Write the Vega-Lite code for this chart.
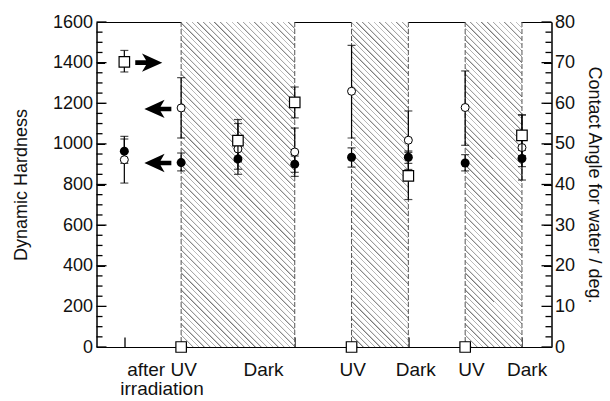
{
  "$schema": "https://vega.github.io/schema/vega-lite/v6.json",
  "width": 455,
  "height": 325,
  "autosize": {"type": "none"},
  "padding": {"left": 96.5, "top": 22, "right": 58.5, "bottom": 54},
  "config": {
    "view": {"stroke": "black", "strokeWidth": 1},
    "font": "Liberation Sans",
    "axis": {"grid": false, "ticks": true, "zindex": 1, "domainColor": "black", "tickColor": "black", "labelColor": "#111", "titleColor": "#111", "labelFont": "Liberation Sans", "titleFont": "Liberation Sans", "titleFontWeight": "normal", "labelFontSize": 18, "titleFontSize": 18}
  },
  "datasets": {
    "bands": [{"from": 1, "to": 2}, {"from": 2, "to": 3}, {"from": 4, "to": 5}, {"from": 6, "to": 7}],
    "edges": [{"x": 1}, {"x": 3}, {"x": 4}, {"x": 5}, {"x": 6}, {"x": 7}],
    "yticks": [
      {"v": 0, "major": true}, {"v": 50, "major": false}, {"v": 100, "major": false}, {"v": 150, "major": false},
      {"v": 200, "major": true}, {"v": 250, "major": false}, {"v": 300, "major": false}, {"v": 350, "major": false},
      {"v": 400, "major": true}, {"v": 450, "major": false}, {"v": 500, "major": false}, {"v": 550, "major": false},
      {"v": 600, "major": true}, {"v": 650, "major": false}, {"v": 700, "major": false}, {"v": 750, "major": false},
      {"v": 800, "major": true}, {"v": 850, "major": false}, {"v": 900, "major": false}, {"v": 950, "major": false},
      {"v": 1000, "major": true}, {"v": 1050, "major": false}, {"v": 1100, "major": false}, {"v": 1150, "major": false},
      {"v": 1200, "major": true}, {"v": 1250, "major": false}, {"v": 1300, "major": false}, {"v": 1350, "major": false},
      {"v": 1400, "major": true}, {"v": 1450, "major": false}, {"v": 1500, "major": false}, {"v": 1550, "major": false},
      {"v": 1600, "major": true}
    ],
    "circles": [
      {"x": 0, "kind": "filled", "value": 964, "lo": 904, "hi": 1024},
      {"x": 0, "kind": "open", "value": 922, "lo": 807, "hi": 1037},
      {"x": 1, "kind": "filled", "value": 908, "lo": 867, "hi": 955},
      {"x": 1, "kind": "open", "value": 1177, "lo": 1029, "hi": 1326},
      {"x": 2, "kind": "filled", "value": 926, "lo": 875, "hi": 977},
      {"x": 2, "kind": "open", "value": 975, "lo": 850, "hi": 1100},
      {"x": 3, "kind": "filled", "value": 900, "lo": 860, "hi": 940},
      {"x": 3, "kind": "open", "value": 960, "lo": 840, "hi": 1078},
      {"x": 4, "kind": "filled", "value": 934, "lo": 886, "hi": 980},
      {"x": 4, "kind": "open", "value": 1259, "lo": 1029, "hi": 1485},
      {"x": 5, "kind": "filled", "value": 934, "lo": 904, "hi": 965},
      {"x": 5, "kind": "open", "value": 1018, "lo": 874, "hi": 1162},
      {"x": 6, "kind": "filled", "value": 906, "lo": 867, "hi": 947},
      {"x": 6, "kind": "open", "value": 1179, "lo": 993, "hi": 1359},
      {"x": 7, "kind": "filled", "value": 928, "lo": 888, "hi": 968},
      {"x": 7, "kind": "open", "value": 982, "lo": 822, "hi": 1143}
    ],
    "angles": [
      {"x": 0, "angle": 70.2, "lo": 67.7, "hi": 73.0},
      {"x": 1, "angle": 0},
      {"x": 2, "angle": 50.8, "lo": 45.6, "hi": 56.0},
      {"x": 3, "angle": 60.2, "lo": 56.4, "hi": 64.0},
      {"x": 4, "angle": 0},
      {"x": 5, "angle": 42.1, "lo": 36.3, "hi": 47.9},
      {"x": 6, "angle": 0},
      {"x": 7, "angle": 52.1, "lo": 47.1, "hi": 57.1}
    ],
    "arrows": [
      {"x": 0.43, "value": 1400, "dir": "right"},
      {"x": 0.59, "value": 1172, "dir": "left"},
      {"x": 0.59, "value": 906, "dir": "left"}
    ],
    "labels": [
      {"x": 0.663, "text": "after UV\nirradiation"},
      {"x": 2.45, "text": "Dark"},
      {"x": 4.02, "text": "UV"},
      {"x": 5.13, "text": "Dark"},
      {"x": 6.11, "text": "UV"},
      {"x": 7.09, "text": "Dark"}
    ]
  },
  "layer": [
    {
      "layer": [
        {
          "data": {"name": "bands"},
          "mark": {"type": "rect", "fill": {"gradient": "linear", "x1": 0, "y1": 1, "x2": 0.237112, "y2": -0.356715, "stops": [
{"offset":0,"color":"#777"},{"offset":0.004,"color":"#fff"},{"offset":0.0125,"color":"#fff"},
{"offset":0.0125,"color":"#777"},{"offset":0.0165,"color":"#fff"},{"offset":0.025,"color":"#fff"},
{"offset":0.025,"color":"#777"},{"offset":0.029,"color":"#fff"},{"offset":0.0375,"color":"#fff"},
{"offset":0.0375,"color":"#777"},{"offset":0.0415,"color":"#fff"},{"offset":0.05,"color":"#fff"},
{"offset":0.05,"color":"#777"},{"offset":0.054,"color":"#fff"},{"offset":0.0625,"color":"#fff"},
{"offset":0.0625,"color":"#777"},{"offset":0.0665,"color":"#fff"},{"offset":0.075,"color":"#fff"},
{"offset":0.075,"color":"#777"},{"offset":0.079,"color":"#fff"},{"offset":0.0875,"color":"#fff"},
{"offset":0.0875,"color":"#777"},{"offset":0.0915,"color":"#fff"},{"offset":0.1,"color":"#fff"},
{"offset":0.1,"color":"#777"},{"offset":0.104,"color":"#fff"},{"offset":0.1125,"color":"#fff"},
{"offset":0.1125,"color":"#777"},{"offset":0.1165,"color":"#fff"},{"offset":0.125,"color":"#fff"},
{"offset":0.125,"color":"#777"},{"offset":0.129,"color":"#fff"},{"offset":0.1375,"color":"#fff"},
{"offset":0.1375,"color":"#777"},{"offset":0.1415,"color":"#fff"},{"offset":0.15,"color":"#fff"},
{"offset":0.15,"color":"#777"},{"offset":0.154,"color":"#fff"},{"offset":0.1625,"color":"#fff"},
{"offset":0.1625,"color":"#777"},{"offset":0.1665,"color":"#fff"},{"offset":0.175,"color":"#fff"},
{"offset":0.175,"color":"#777"},{"offset":0.179,"color":"#fff"},{"offset":0.1875,"color":"#fff"},
{"offset":0.1875,"color":"#777"},{"offset":0.1915,"color":"#fff"},{"offset":0.2,"color":"#fff"},
{"offset":0.2,"color":"#777"},{"offset":0.204,"color":"#fff"},{"offset":0.2125,"color":"#fff"},
{"offset":0.2125,"color":"#777"},{"offset":0.2165,"color":"#fff"},{"offset":0.225,"color":"#fff"},
{"offset":0.225,"color":"#777"},{"offset":0.229,"color":"#fff"},{"offset":0.2375,"color":"#fff"},
{"offset":0.2375,"color":"#777"},{"offset":0.2415,"color":"#fff"},{"offset":0.25,"color":"#fff"},
{"offset":0.25,"color":"#777"},{"offset":0.254,"color":"#fff"},{"offset":0.2625,"color":"#fff"},
{"offset":0.2625,"color":"#777"},{"offset":0.2665,"color":"#fff"},{"offset":0.275,"color":"#fff"},
{"offset":0.275,"color":"#777"},{"offset":0.279,"color":"#fff"},{"offset":0.2875,"color":"#fff"},
{"offset":0.2875,"color":"#777"},{"offset":0.2915,"color":"#fff"},{"offset":0.3,"color":"#fff"},
{"offset":0.3,"color":"#777"},{"offset":0.304,"color":"#fff"},{"offset":0.3125,"color":"#fff"},
{"offset":0.3125,"color":"#777"},{"offset":0.3165,"color":"#fff"},{"offset":0.325,"color":"#fff"},
{"offset":0.325,"color":"#777"},{"offset":0.329,"color":"#fff"},{"offset":0.3375,"color":"#fff"},
{"offset":0.3375,"color":"#777"},{"offset":0.3415,"color":"#fff"},{"offset":0.35,"color":"#fff"},
{"offset":0.35,"color":"#777"},{"offset":0.354,"color":"#fff"},{"offset":0.3625,"color":"#fff"},
{"offset":0.3625,"color":"#777"},{"offset":0.3665,"color":"#fff"},{"offset":0.375,"color":"#fff"},
{"offset":0.375,"color":"#777"},{"offset":0.379,"color":"#fff"},{"offset":0.3875,"color":"#fff"},
{"offset":0.3875,"color":"#777"},{"offset":0.3915,"color":"#fff"},{"offset":0.4,"color":"#fff"},
{"offset":0.4,"color":"#777"},{"offset":0.404,"color":"#fff"},{"offset":0.4125,"color":"#fff"},
{"offset":0.4125,"color":"#777"},{"offset":0.4165,"color":"#fff"},{"offset":0.425,"color":"#fff"},
{"offset":0.425,"color":"#777"},{"offset":0.429,"color":"#fff"},{"offset":0.4375,"color":"#fff"},
{"offset":0.4375,"color":"#777"},{"offset":0.4415,"color":"#fff"},{"offset":0.45,"color":"#fff"},
{"offset":0.45,"color":"#777"},{"offset":0.454,"color":"#fff"},{"offset":0.4625,"color":"#fff"},
{"offset":0.4625,"color":"#777"},{"offset":0.4665,"color":"#fff"},{"offset":0.475,"color":"#fff"},
{"offset":0.475,"color":"#777"},{"offset":0.479,"color":"#fff"},{"offset":0.4875,"color":"#fff"},
{"offset":0.4875,"color":"#777"},{"offset":0.4915,"color":"#fff"},{"offset":0.5,"color":"#fff"},
{"offset":0.5,"color":"#777"},{"offset":0.504,"color":"#fff"},{"offset":0.5125,"color":"#fff"},
{"offset":0.5125,"color":"#777"},{"offset":0.5165,"color":"#fff"},{"offset":0.525,"color":"#fff"},
{"offset":0.525,"color":"#777"},{"offset":0.529,"color":"#fff"},{"offset":0.5375,"color":"#fff"},
{"offset":0.5375,"color":"#777"},{"offset":0.5415,"color":"#fff"},{"offset":0.55,"color":"#fff"},
{"offset":0.55,"color":"#777"},{"offset":0.554,"color":"#fff"},{"offset":0.5625,"color":"#fff"},
{"offset":0.5625,"color":"#777"},{"offset":0.5665,"color":"#fff"},{"offset":0.575,"color":"#fff"},
{"offset":0.575,"color":"#777"},{"offset":0.579,"color":"#fff"},{"offset":0.5875,"color":"#fff"},
{"offset":0.5875,"color":"#777"},{"offset":0.5915,"color":"#fff"},{"offset":0.6,"color":"#fff"},
{"offset":0.6,"color":"#777"},{"offset":0.604,"color":"#fff"},{"offset":0.6125,"color":"#fff"},
{"offset":0.6125,"color":"#777"},{"offset":0.6165,"color":"#fff"},{"offset":0.625,"color":"#fff"},
{"offset":0.625,"color":"#777"},{"offset":0.629,"color":"#fff"},{"offset":0.6375,"color":"#fff"},
{"offset":0.6375,"color":"#777"},{"offset":0.6415,"color":"#fff"},{"offset":0.65,"color":"#fff"},
{"offset":0.65,"color":"#777"},{"offset":0.654,"color":"#fff"},{"offset":0.6625,"color":"#fff"},
{"offset":0.6625,"color":"#777"},{"offset":0.6665,"color":"#fff"},{"offset":0.675,"color":"#fff"},
{"offset":0.675,"color":"#777"},{"offset":0.679,"color":"#fff"},{"offset":0.6875,"color":"#fff"},
{"offset":0.6875,"color":"#777"},{"offset":0.6915,"color":"#fff"},{"offset":0.7,"color":"#fff"},
{"offset":0.7,"color":"#777"},{"offset":0.704,"color":"#fff"},{"offset":0.7125,"color":"#fff"},
{"offset":0.7125,"color":"#777"},{"offset":0.7165,"color":"#fff"},{"offset":0.725,"color":"#fff"},
{"offset":0.725,"color":"#777"},{"offset":0.729,"color":"#fff"},{"offset":0.7375,"color":"#fff"},
{"offset":0.7375,"color":"#777"},{"offset":0.7415,"color":"#fff"},{"offset":0.75,"color":"#fff"},
{"offset":0.75,"color":"#777"},{"offset":0.754,"color":"#fff"},{"offset":0.7625,"color":"#fff"},
{"offset":0.7625,"color":"#777"},{"offset":0.7665,"color":"#fff"},{"offset":0.775,"color":"#fff"},
{"offset":0.775,"color":"#777"},{"offset":0.779,"color":"#fff"},{"offset":0.7875,"color":"#fff"},
{"offset":0.7875,"color":"#777"},{"offset":0.7915,"color":"#fff"},{"offset":0.8,"color":"#fff"},
{"offset":0.8,"color":"#777"},{"offset":0.804,"color":"#fff"},{"offset":0.8125,"color":"#fff"},
{"offset":0.8125,"color":"#777"},{"offset":0.8165,"color":"#fff"},{"offset":0.825,"color":"#fff"},
{"offset":0.825,"color":"#777"},{"offset":0.829,"color":"#fff"},{"offset":0.8375,"color":"#fff"},
{"offset":0.8375,"color":"#777"},{"offset":0.8415,"color":"#fff"},{"offset":0.85,"color":"#fff"}
]}},
          "encoding": {
            "x": {"field": "from", "type": "quantitative", "title": null, "scale": {"domain": [-0.49, 7.52], "nice": false, "zero": false}, "axis": {"values": [0, 1, 2, 3, 4, 5, 6, 7], "labels": false, "tickSize": -10, "tickWidth": 1.3, "title": null}},
            "x2": {"field": "to"},
            "y": {"datum": 1600, "type": "quantitative", "scale": {"domain": [0, 1600], "nice": false, "zero": false}, "axis": {"title": "Dynamic Hardness", "format": "d", "ticks": true, "values": [0,50,100,150,200,250,300,350,400,450,500,550,600,650,700,750,800,850,900,950,1000,1050,1100,1150,1200,1250,1300,1350,1400,1450,1500,1550,1600], "labelExpr": "datum.value % 200 === 0 ? datum.label : ''", "tickSize": -8, "encode": {"ticks": {"update": {"x2": {"signal": "datum.value % 200 === 0 ? 10 : 6"}}}}, "labelPadding": 12, "titlePadding": 22}},
            "y2": {"datum": 0}
          }
        },
        {
          "data": {"name": "edges"},
          "mark": {"type": "rule", "color": "#555", "strokeDash": [5, 2], "strokeWidth": 1},
          "encoding": {"x": {"field": "x", "type": "quantitative", "title": null}}
        },
        {
          "data": {"name": "yticks"},
          "transform": [{"filter": "datum.major"}],
          "mark": {"type": "rule", "color": "black", "strokeWidth": 1.3},
          "encoding": {
            "x": {"datum": -0.49, "type": "quantitative"},
            "x2": {"datum": -0.314},
            "y": {"field": "v", "type": "quantitative", "title": "Dynamic Hardness"}
          }
        },
        {
          "data": {"name": "yticks"},
          "transform": [{"filter": "!datum.major"}],
          "mark": {"type": "rule", "color": "black", "strokeWidth": 1.3},
          "encoding": {
            "x": {"datum": -0.49, "type": "quantitative"},
            "x2": {"datum": -0.384},
            "y": {"field": "v", "type": "quantitative", "title": "Dynamic Hardness"}
          }
        },
        {
          "data": {"name": "yticks"},
          "transform": [{"filter": "datum.major"}],
          "mark": {"type": "rule", "color": "black", "strokeWidth": 1.3},
          "encoding": {
            "x": {"datum": 7.52, "type": "quantitative"},
            "x2": {"datum": 7.344},
            "y": {"field": "v", "type": "quantitative", "title": "Dynamic Hardness"}
          }
        },
        {
          "data": {"name": "yticks"},
          "transform": [{"filter": "!datum.major"}],
          "mark": {"type": "rule", "color": "black", "strokeWidth": 1.3},
          "encoding": {
            "x": {"datum": 7.52, "type": "quantitative"},
            "x2": {"datum": 7.414},
            "y": {"field": "v", "type": "quantitative", "title": "Dynamic Hardness"}
          }
        },
        {
          "data": {"name": "circles"},
          "mark": {"type": "rule", "color": "black", "strokeWidth": 1.2},
          "encoding": {
            "x": {"field": "x", "type": "quantitative", "title": null},
            "y": {"field": "lo", "type": "quantitative", "title": "Dynamic Hardness"},
            "y2": {"field": "hi"}
          }
        },
        {
          "data": {"name": "circles"},
          "mark": {"type": "tick", "orient": "horizontal", "size": 8, "thickness": 1.2, "color": "black"},
          "encoding": {
            "x": {"field": "x", "type": "quantitative", "title": null},
            "y": {"field": "lo", "type": "quantitative", "title": "Dynamic Hardness"}
          }
        },
        {
          "data": {"name": "circles"},
          "mark": {"type": "tick", "orient": "horizontal", "size": 8, "thickness": 1.2, "color": "black"},
          "encoding": {
            "x": {"field": "x", "type": "quantitative", "title": null},
            "y": {"field": "hi", "type": "quantitative", "title": "Dynamic Hardness"}
          }
        },
        {
          "data": {"name": "circles"},
          "transform": [{"filter": "datum.kind === 'filled'"}],
          "mark": {"type": "point", "shape": "circle", "filled": true, "color": "black", "size": 80, "opacity": 1},
          "encoding": {
            "x": {"field": "x", "type": "quantitative", "title": null},
            "y": {"field": "value", "type": "quantitative", "title": "Dynamic Hardness"}
          }
        },
        {
          "data": {"name": "circles"},
          "transform": [{"filter": "datum.kind === 'open'"}],
          "mark": {"type": "point", "shape": "circle", "filled": true, "fill": "white", "stroke": "black", "strokeWidth": 1, "size": 64, "opacity": 1},
          "encoding": {
            "x": {"field": "x", "type": "quantitative", "title": null},
            "y": {"field": "value", "type": "quantitative", "title": "Dynamic Hardness"}
          }
        },
        {
          "data": {"name": "arrows"},
          "mark": {"type": "point", "filled": true, "color": "black", "size": 729, "opacity": 1},
          "encoding": {
            "x": {"field": "x", "type": "quantitative", "title": null},
            "y": {"field": "value", "type": "quantitative", "title": "Dynamic Hardness"},
            "shape": {"field": "dir", "type": "nominal", "legend": null, "scale": {"domain": ["right", "left"], "range": ["M1,0L-0.5,-0.68L-0.2,-0.17L-1,-0.17L-1,0.17L-0.2,0.17L-0.5,0.68Z", "M-1,0L0.5,-0.68L0.2,-0.17L1,-0.17L1,0.17L0.2,0.17L0.5,0.68Z"]}}
          }
        },
        {
          "data": {"name": "labels"},
          "mark": {"type": "text", "baseline": "top", "align": "center", "dy": 14, "fontSize": 19, "lineBreak": "\n", "lineHeight": 19, "color": "#111", "font": "Liberation Sans"},
          "encoding": {
            "x": {"field": "x", "type": "quantitative", "title": null},
            "y": {"datum": 0, "type": "quantitative"},
            "text": {"field": "text"}
          }
        }
      ]
    },
    {
      "layer": [
        {
          "data": {"name": "angles"},
          "mark": {"type": "rule", "color": "black", "strokeWidth": 1.2},
          "encoding": {
            "x": {"field": "x", "type": "quantitative", "title": null},
            "y": {"field": "lo", "type": "quantitative", "title": "Contact Angle for water / deg.", "scale": {"domain": [0, 80], "nice": false, "zero": false}, "axis": {"orient": "right", "title": "Contact Angle for water / deg.", "ticks": true, "values": [0,2.5,5,7.5,10,12.5,15,17.5,20,22.5,25,27.5,30,32.5,35,37.5,40,42.5,45,47.5,50,52.5,55,57.5,60,62.5,65,67.5,70,72.5,75,77.5,80], "labelExpr": "datum.value % 10 === 0 ? datum.label : ''", "tickSize": -8, "encode": {"ticks": {"update": {"x2": {"signal": "datum.value % 10 === 0 ? -10 : -6"}}}}, "labelPadding": 11, "titlePadding": 10}},
            "y2": {"field": "hi"}
          }
        },
        {
          "data": {"name": "angles"},
          "mark": {"type": "tick", "orient": "horizontal", "size": 8, "thickness": 1.2, "color": "black"},
          "encoding": {
            "x": {"field": "x", "type": "quantitative", "title": null},
            "y": {"field": "lo", "type": "quantitative", "title": "Contact Angle for water / deg."}
          }
        },
        {
          "data": {"name": "angles"},
          "mark": {"type": "tick", "orient": "horizontal", "size": 8, "thickness": 1.2, "color": "black"},
          "encoding": {
            "x": {"field": "x", "type": "quantitative", "title": null},
            "y": {"field": "hi", "type": "quantitative", "title": "Contact Angle for water / deg."}
          }
        },
        {
          "data": {"name": "angles"},
          "mark": {"type": "point", "shape": "square", "filled": true, "fill": "white", "stroke": "black", "strokeWidth": 1.2, "size": 110, "opacity": 1},
          "encoding": {
            "x": {"field": "x", "type": "quantitative", "title": null},
            "y": {"field": "angle", "type": "quantitative", "title": "Contact Angle for water / deg."}
          }
        }
      ]
    }
  ],
  "resolve": {"scale": {"y": "independent"}}
}
